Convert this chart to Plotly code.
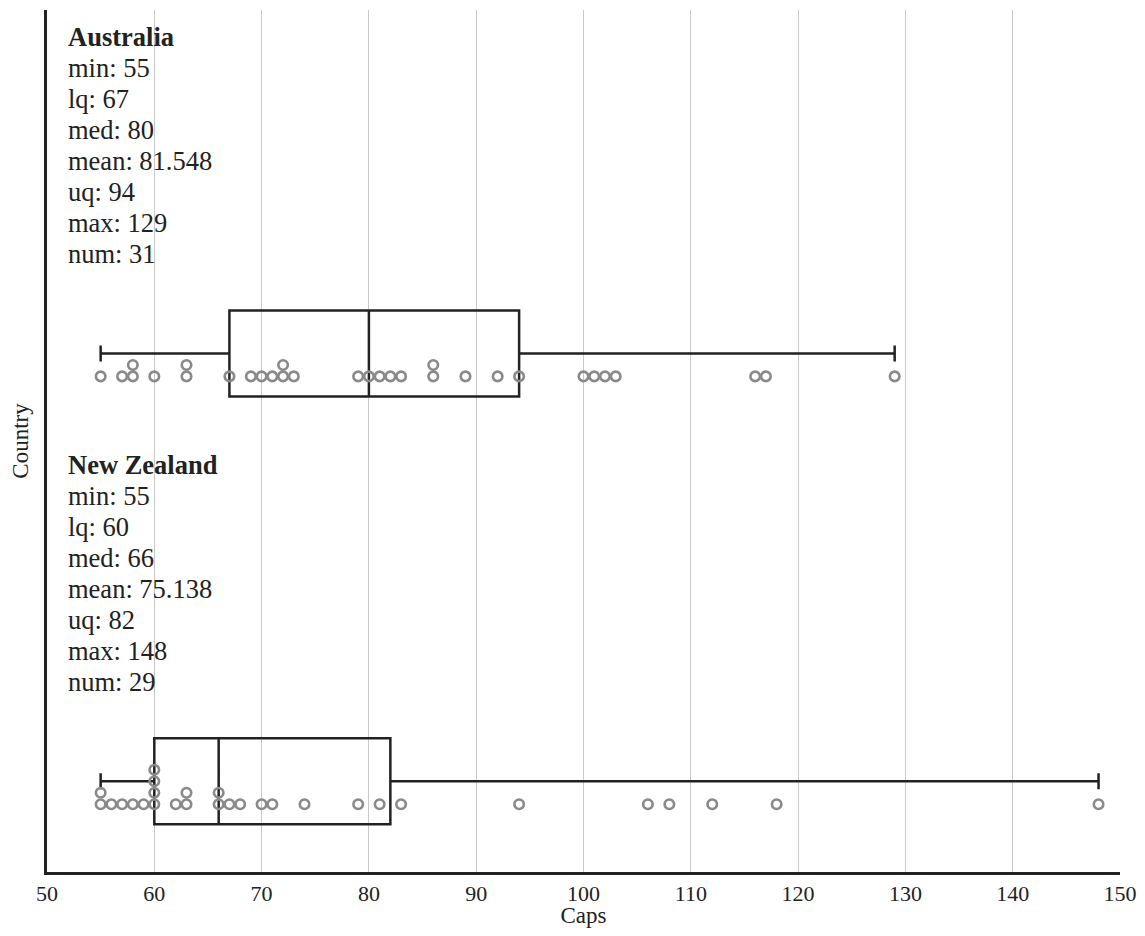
import numpy as np
import plotly.graph_objects as go

countries = ["Australia", "New Zealand"]
australia_caps = [55, 57, 58, 58, 60, 63, 63, 67, 69, 70, 71, 72, 72, 73, 79, 80, 81, 82, 83,
                  86, 86, 89, 92, 94, 100, 101, 102, 103, 116, 117, 129]
new_zealand_caps = [55, 55, 56, 57, 58, 59, 60, 60, 60, 60, 62, 63, 63, 66, 66, 67, 68, 70, 71,
                    74, 79, 81, 83, 94, 106, 108, 112, 118, 148]
series = [australia_caps, new_zealand_caps]
positions = [1, 0]
x_ticks = [50, 60, 70, 80, 90, 100, 110, 120, 130, 140, 150]

FONT = "Liberation Serif, Times New Roman, serif"
DARK = "#222222"
DOT = "#8a8a8a"


def quartiles(vals):
    v = sorted(vals)
    n = len(v)
    half = n // 2
    lower = v[:half]
    upper = v[half + 1:] if n % 2 else v[half:]
    return float(np.median(lower)), float(np.median(v)), float(np.median(upper))


def fmt(x):
    if abs(x - round(x)) < 1e-9:
        return str(int(round(x)))
    return f"{x:.3f}".rstrip("0").rstrip(".")


fig = go.Figure()
annotations = []
for name, vals, pos in zip(countries, series, positions):
    fig.add_trace(go.Box(
        x=vals, y=[pos] * len(vals), orientation="h", name=name,
        boxpoints=False, quartilemethod="exclusive",
        width=0.201, whiskerwidth=0.186,
        line=dict(color=DARK, width=2.5), fillcolor="rgba(0,0,0,0)",
        showlegend=False, hoverinfo="skip",
    ))
    # stacked dot plot: duplicates stack upward
    counts = {}
    ys = []
    for v in vals:
        k = counts.get(v, 0)
        counts[v] = k + 1
        ys.append(pos - 0.0535 + k * 0.0268)
    fig.add_trace(go.Scatter(
        x=vals, y=ys, mode="markers", showlegend=False,
        marker=dict(symbol="circle-open", size=9.5, color=DOT, line=dict(color=DOT, width=2.6)),
    ))
    lq, med, uq = quartiles(vals)
    lines = [f"<b>{name}</b>",
             f"min: {fmt(min(vals))}",
             f"lq: {fmt(lq)}",
             f"med: {fmt(med)}",
             f"mean: {fmt(float(np.mean(vals)))}",
             f"uq: {fmt(uq)}",
             f"max: {fmt(max(vals))}",
             f"num: {len(vals)}"]
    for i, t in enumerate(lines):
        annotations.append(dict(
            x=51.8, y=pos + 0.7405 - i * 0.0725, xref="x", yref="y",
            text=t, showarrow=False, xanchor="left", yanchor="middle",
            font=dict(family=FONT, size=26.5, color=DARK),
        ))

fig.update_layout(
    width=1129, height=920,
    margin=dict(l=39, r=17, t=2, b=56),
    paper_bgcolor="white", plot_bgcolor="white",
    font=dict(family=FONT, size=22, color=DARK),
    annotations=annotations,
    xaxis=dict(
        range=[50, 150], tickvals=x_ticks, ticktext=[str(t) for t in x_ticks],
        showgrid=True, gridcolor="#c8c8c8", gridwidth=1,
        showline=True, linecolor=DARK, linewidth=3, zeroline=False,
        ticks="", tickfont=dict(family=FONT, size=22, color=DARK), automargin=False,
        ticklabeloverflow="allow",
        title=dict(text="Caps", font=dict(family=FONT, size=23, color=DARK), standoff=3),
    ),
    yaxis=dict(
        range=[-0.212, 1.803], showticklabels=False, showgrid=False, zeroline=False,
        showline=True, linecolor=DARK, linewidth=3, ticks="", automargin=False,
        title=dict(text="Country", font=dict(family=FONT, size=23, color=DARK), standoff=10),
    ),
)

fig.write_html("out.html")
